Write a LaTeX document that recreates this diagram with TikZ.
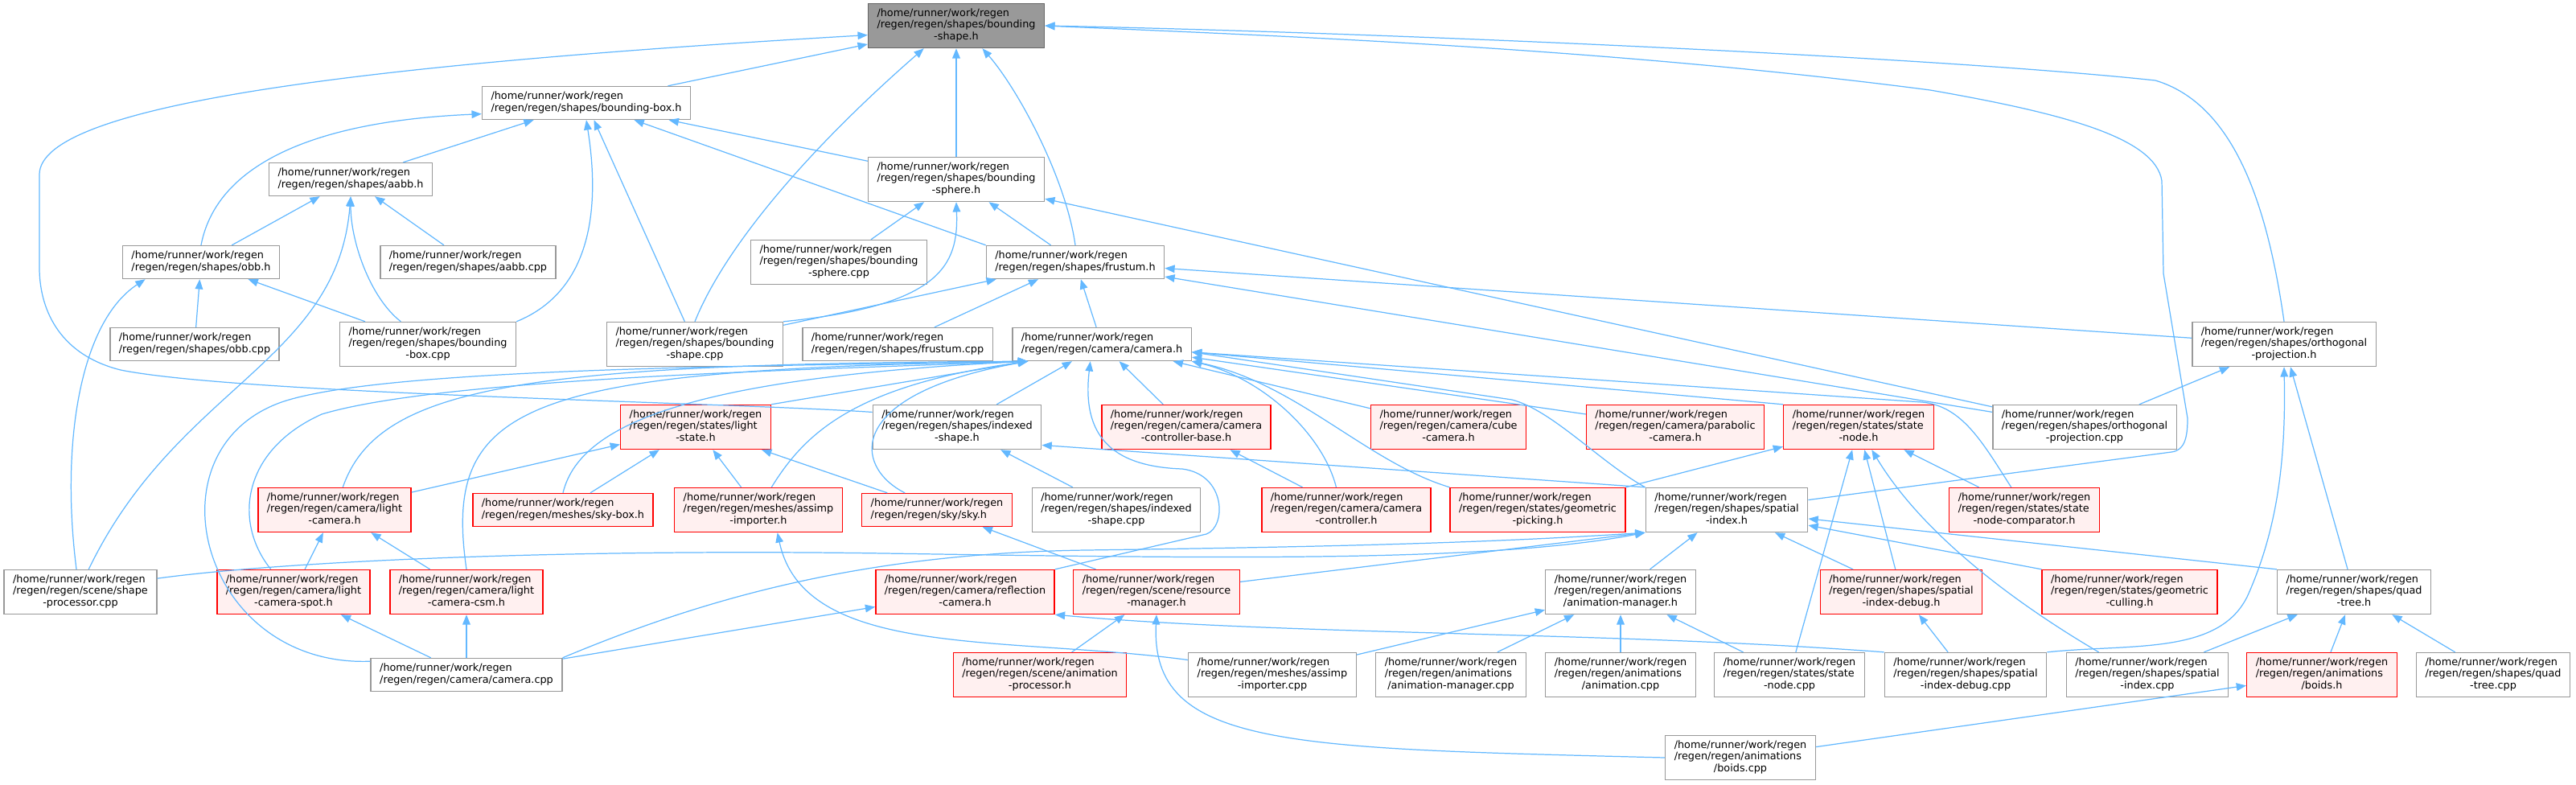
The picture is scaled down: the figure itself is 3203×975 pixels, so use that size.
\documentclass[tikz,border=0pt]{standalone}
\usepackage{fontspec}
\setmainfont{DejaVu Sans}
\usetikzlibrary{arrows.meta}
\definecolor{edgeblue}{HTML}{63B8FF}
\definecolor{boxgray}{HTML}{999999}
\definecolor{rootline}{HTML}{666666}
\definecolor{hotfill}{HTML}{FFF0F0}
\definecolor{hotline}{HTML}{FF0000}
% file labels: two left lines, last line centred
\newcommand{\ftwo}[1]{\begin{tabular}{@{}l@{}}/home/runner/work/regen\\#1\end{tabular}}
\newcommand{\fthree}[2]{\begin{tabular}{@{}l@{}}/home/runner/work/regen\\#1\\\multicolumn{1}{@{}c@{}}{#2}\end{tabular}}

\begin{document}
\begin{tikzpicture}[x=0.02cm,y=-0.02cm,
  file/.style={draw=boxgray,fill=white,line width=0.8pt,inner xsep=0.22cm,inner ysep=0pt,font=\fontsize{7.3}{8.4}\selectfont},
  twol/.style={minimum height=0.82cm},
  threel/.style={minimum height=1.1cm},
  hot/.style={file,draw=hotline,fill=hotfill},
  root/.style={file,draw=rootline,fill=boxgray},
  ar/.style={draw=edgeblue,line width=0.7pt,-{Triangle[length=7pt,width=5.5pt]}}]
\useasboundingbox (0,0) rectangle (3203,975);
% rows 0-4
\node[root,threel] (bsh) at (1189,32) {\fthree{/regen/regen/shapes/bounding}{-shape.h}};
\node[file,twol] (bbh) at (729,128) {\ftwo{/regen/regen/shapes/bounding-box.h}};
\node[file,twol] (aabbh) at (436,223) {\ftwo{/regen/regen/shapes/aabb.h}};
\node[file,threel] (bsph) at (1189,223) {\fthree{/regen/regen/shapes/bounding}{-sphere.h}};
\node[file,twol] (obbh) at (250,326) {\ftwo{/regen/regen/shapes/obb.h}};
\node[file,twol] (aabbc) at (582,326) {\ftwo{/regen/regen/shapes/aabb.cpp}};
\node[file,threel] (bspc) at (1043,326) {\fthree{/regen/regen/shapes/bounding}{-sphere.cpp}};
\node[file,twol] (frh) at (1337,326) {\ftwo{/regen/regen/shapes/frustum.h}};
\node[file,twol] (obbc) at (242,428) {\ftwo{/regen/regen/shapes/obb.cpp}};
\node[file,threel] (bbc) at (532,428) {\fthree{/regen/regen/shapes/bounding}{-box.cpp}};
\node[file,threel] (bshc) at (864,428) {\fthree{/regen/regen/shapes/bounding}{-shape.cpp}};
\node[file,twol] (frc) at (1116,428) {\ftwo{/regen/regen/shapes/frustum.cpp}};
\node[file,twol] (camh) at (1370,428) {\ftwo{/regen/regen/camera/camera.h}};
\node[file,threel] (orthoh) at (2840,428) {\fthree{/regen/regen/shapes/orthogonal}{-projection.h}};
% row 5
\node[hot,threel] (lsth) at (865,531) {\fthree{/regen/regen/states/light}{-state.h}};
\node[file,threel] (ishh) at (1190,531) {\fthree{/regen/regen/shapes/indexed}{-shape.h}};
\node[hot,threel] (ccbh) at (1475,531) {\fthree{/regen/regen/camera/camera}{-controller-base.h}};
\node[hot,threel] (cubeh) at (1801,531) {\fthree{/regen/regen/camera/cube}{-camera.h}};
\node[hot,threel] (parah) at (2083,531) {\fthree{/regen/regen/camera/parabolic}{-camera.h}};
\node[hot,threel] (snh) at (2311,531) {\fthree{/regen/regen/states/state}{-node.h}};
\node[file,threel] (orthoc) at (2592,531) {\fthree{/regen/regen/shapes/orthogonal}{-projection.cpp}};
% row 6
\node[hot,threel] (lcamh) at (416,634) {\fthree{/regen/regen/camera/light}{-camera.h}};
\node[hot,twol] (skyboxh) at (700,634) {\ftwo{/regen/regen/meshes/sky-box.h}};
\node[hot,threel] (assh) at (943,634) {\fthree{/regen/regen/meshes/assimp}{-importer.h}};
\node[hot,twol] (skyh) at (1165,634) {\ftwo{/regen/regen/sky/sky.h}};
\node[file,threel] (ishc) at (1388,634) {\fthree{/regen/regen/shapes/indexed}{-shape.cpp}};
\node[hot,threel] (cch) at (1674,634) {\fthree{/regen/regen/camera/camera}{-controller.h}};
\node[hot,threel] (gph) at (1912,634) {\fthree{/regen/regen/states/geometric}{-picking.h}};
\node[file,threel] (sih) at (2147,634) {\fthree{/regen/regen/shapes/spatial}{-index.h}};
\node[hot,threel] (sncmph) at (2517,634) {\fthree{/regen/regen/states/state}{-node-comparator.h}};
% row 7
\node[file,threel] (spc) at (100,736) {\fthree{/regen/regen/scene/shape}{-processor.cpp}};
\node[hot,threel] (lspoth) at (365,736) {\fthree{/regen/regen/camera/light}{-camera-spot.h}};
\node[hot,threel] (lcsmh) at (580,736) {\fthree{/regen/regen/camera/light}{-camera-csm.h}};
\node[hot,threel] (reflh) at (1200,736) {\fthree{/regen/regen/camera/reflection}{-camera.h}};
\node[hot,threel] (resh) at (1438,736) {\fthree{/regen/regen/scene/resource}{-manager.h}};
\node[file,threel] (amh) at (2015,736) {\fthree{/regen/regen/animations}{/animation-manager.h}};
\node[hot,threel] (sidh) at (2364,736) {\fthree{/regen/regen/shapes/spatial}{-index-debug.h}};
\node[hot,threel] (gch) at (2648,736) {\fthree{/regen/regen/states/geometric}{-culling.h}};
\node[file,threel] (qth) at (2927,736) {\fthree{/regen/regen/shapes/quad}{-tree.h}};
% row 8
\node[file,twol] (camc) at (580,839) {\ftwo{/regen/regen/camera/camera.cpp}};
\node[hot,threel] (aph) at (1293,839) {\fthree{/regen/regen/scene/animation}{-processor.h}};
\node[file,threel] (assc) at (1582,839) {\fthree{/regen/regen/meshes/assimp}{-importer.cpp}};
\node[file,threel] (amc) at (1804,839) {\fthree{/regen/regen/animations}{/animation-manager.cpp}};
\node[file,threel] (anc) at (2015,839) {\fthree{/regen/regen/animations}{/animation.cpp}};
\node[file,threel] (snc) at (2225,839) {\fthree{/regen/regen/states/state}{-node.cpp}};
\node[file,threel] (sidc) at (2444,839) {\fthree{/regen/regen/shapes/spatial}{-index-debug.cpp}};
\node[file,threel] (sic) at (2670,839) {\fthree{/regen/regen/shapes/spatial}{-index.cpp}};
\node[hot,threel] (boidsh) at (2887,839) {\fthree{/regen/regen/animations}{/boids.h}};
\node[file,threel] (qtc) at (3100,839) {\fthree{/regen/regen/shapes/quad}{-tree.cpp}};
% row 9
\node[file,threel] (boidsc) at (2164,942) {\fthree{/regen/regen/animations}{/boids.cpp}};

% includes of bounding-shape.h
\draw[ar] (bbh)--(bsh);
\draw[ar] (bsph)--(bsh);
\draw[ar] (ishh.170) .. controls (900,500) and (300,490) .. (150,460) .. controls (70,440) and (49,380) .. (49,333) -- (49,217) .. controls (49,130) and (450,80) .. (bsh.186);
\draw[ar] (frh.north) .. controls (1325,220) and (1265,110) .. (bsh.-41);
\draw[ar] (bshc.north) .. controls (900,310) and (1000,190) .. (bsh.-145);
\draw[ar] (orthoh.north) .. controls (2820,260) and (2780,130) .. (2680,100) .. controls (2400,70) and (1700,40) .. (bsh.east);
\draw[ar] (sih.7) -- (2700,562) .. controls (2716,560) and (2720,545) .. (2720,520) -- (2690,340) -- (2688,225) .. controls (2680,170) and (2560,140) .. (2400,112) .. controls (2000,60) and (1600,45) .. (bsh.east);
% bounding-box.h, aabb.h, obb.h
\draw[ar] (aabbh)--(bbh);
\draw[ar] (bshc)--(bbh);
\draw[ar] (bsph)--(bbh);
\draw[ar] (frh.north west)--(bbh);
\draw[ar] (obbh.north) .. controls (270,200) and (400,150) .. (bbh.186);
\draw[ar] (bbc.north east) .. controls (740,360) and (745,250) .. (bbh.south);
\draw[ar] (obbh)--(aabbh);
\draw[ar] (aabbc)--(aabbh);
\draw[ar] (bbc.140) .. controls (460,370) and (436,300) .. (aabbh.south);
\draw[ar] (spc.70) .. controls (220,480) and (420,450) .. (aabbh.south);
\draw[ar] (obbc)--(obbh);
\draw[ar] (bbc)--(obbh);
\draw[ar] (spc.100) .. controls (75,550) and (100,400) .. (obbh.197);
% bounding-sphere.h, frustum.h, orthogonal-projection.h
\draw[ar] (bspc)--(bsph);
\draw[ar] (frh)--(bsph);
\draw[ar] (orthoc)--(bsph);
\draw[ar] (bshc.north east) .. controls (1170,380) and (1192,330) .. (bsph.south);
\draw[ar] (bshc)--(frh);
\draw[ar] (frc)--(frh);
\draw[ar] (camh)--(frh);
\draw[ar] (orthoh)--(frh);
\draw[ar] (orthoc)--(frh);
\draw[ar] (orthoc)--(orthoh);
\draw[ar] (qth)--(orthoh);
\draw[ar] (sidc.north east) .. controls (2650,800) and (2760,815) .. (2795,740) .. controls (2835,650) and (2842,560) .. (orthoh.south);
% includes of camera.h
\draw[ar] (lsth.north east)--(camh.193);
\draw[ar] (ishh)--(camh);
\draw[ar] (ccbh)--(camh);
\draw[ar] (cubeh)--(camh);
\draw[ar] (parah)--(camh);
\draw[ar] (snh.north west)--(camh.-5);
\draw[ar] (camc.172) .. controls (250,830) and (180,560) .. (350,500) .. controls (480,455) and (1000,455) .. (camh.193);
\draw[ar] (lspoth.135) .. controls (290,650) and (300,560) .. (400,515) .. controls (550,470) and (1000,460) .. (camh.193);
\draw[ar] (lcamh.70) .. controls (470,480) and (650,452) .. (camh.193);
\draw[ar] (lcsmh.north) .. controls (550,500) and (650,460) .. (camh.193);
\draw[ar] (skyboxh.north) .. controls (720,530) and (850,470) .. (camh.193);
\draw[ar] (assh.60) .. controls (1000,540) and (1060,480) .. (camh.193);
\draw[ar] (skyh.152) .. controls (1060,580) and (1050,490) .. (camh.193);
\draw[ar] (reflh.north east) -- (1500,664) .. controls (1525,655) and (1525,590) .. (1470,583) .. controls (1380,580) and (1345,540) .. (camh.-124);
\draw[ar] (cch.114) .. controls (1645,540) and (1570,470) .. (camh.south east);
\draw[ar] (gph.north west) .. controls (1700,575) and (1610,475) .. (camh.south east);
\draw[ar] (sih.north west) .. controls (1990,575) and (1930,510) .. (1880,497) -- (camh.-5);
\draw[ar] (sncmph.120) .. controls (2465,550) and (2440,505) .. (2390,500) -- (camh.-5);
% middle rows
\draw[ar] (lcamh)--(lsth);
\draw[ar] (skyboxh)--(lsth);
\draw[ar] (assh)--(lsth);
\draw[ar] (skyh)--(lsth);
\draw[ar] (ishc)--(ishh);
\draw[ar] (sih.north west)--(ishh.-12);
\draw[ar] (cch)--(ccbh);
\draw[ar] (gph.north east)--(snh);
\draw[ar] (sncmph)--(snh);
\draw[ar] (sidh)--(snh);
\draw[ar] (snc)--(snh);
\draw[ar] (sic.155) .. controls (2540,770) and (2400,680) .. (snh.-60);
\draw[ar] (lspoth)--(lcamh);
\draw[ar] (lcsmh)--(lcamh);
\draw[ar] (camc)--(lspoth);
\draw[ar] (camc)--(lcsmh);
\draw[ar] (camc)--(reflh);
\draw[ar] (camc.north east) .. controls (850,755) and (1050,688) .. (1350,684) .. controls (1650,680) and (1850,675) .. (sih.south west);
\draw[ar] (spc.10) .. controls (350,698) and (700,682) .. (1100,688) .. controls (1500,694) and (1850,700) .. (sih.south west);
\draw[ar] (resh)--(sih.south west);
\draw[ar] (amh)--(sih);
\draw[ar] (sidh)--(sih);
\draw[ar] (gch.north west)--(sih);
\draw[ar] (qth.north west)--(sih);
\draw[ar] (resh)--(skyh);
\draw[ar] (aph)--(resh);
\draw[ar] (boidsc.west) .. controls (1600,930) and (1430,930) .. (resh.south);
\draw[ar] (assc.170) .. controls (1250,790) and (1000,820) .. (assh.-50);
\draw[ar] (sidc.north west) .. controls (2000,785) and (1600,790) .. (reflh.south east);
% bottom rows
\draw[ar] (assc)--(amh);
\draw[ar] (amc)--(amh);
\draw[ar] (anc)--(amh);
\draw[ar] (snc)--(amh);
\draw[ar] (sidc)--(sidh);
\draw[ar] (sic)--(qth);
\draw[ar] (boidsh)--(qth);
\draw[ar] (qtc)--(qth);
\draw[ar] (boidsc)--(boidsh);
\end{tikzpicture}
\end{document}
